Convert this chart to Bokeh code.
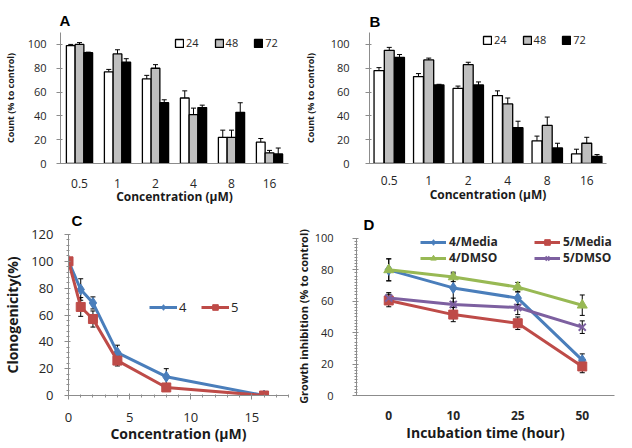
import numpy as np
from bokeh.plotting import figure
from bokeh.layouts import column, row
from bokeh.models import (ColumnDataSource, FactorRange, Range1d, Whisker, TeeHead,
                          Legend, LegendItem, SingleIntervalTicker)
from bokeh.transform import dodge
from bokeh.embed import file_html
from bokeh.resources import INLINE

# ---------------- data ----------------
conc_labels = ["0.5", "1", "2", "4", "8", "16"]
series_labels = ["24", "48", "72"]

a_24 = [99, 77, 71, 55, 22, 18]
a_48 = [100, 92, 80, 41, 22, 9]
a_72 = [93, 85, 51, 47, 43, 8]
a_24_err = [1, 2, 3, 6, 6, 3]
a_48_err = [1.5, 3.5, 3, 5.5, 6, 2]
a_72_err = [0.5, 3, 2.5, 2, 8, 5]

b_24 = [78, 73, 63, 57, 19, 8]
b_48 = [95, 87, 83, 50, 32, 17]
b_72 = [89, 66, 66, 30, 13, 6]
b_24_err = [2.5, 2.5, 2, 4, 4, 4]
b_48_err = [2.5, 1.5, 2, 5, 7, 5]
b_72_err = [2.5, 0.5, 2.5, 5.5, 4, 1.5]

c_conc = [0, 1, 2, 4, 8, 16]
c_4 = [100, 79, 69, 32, 14, 0]
c_4_err = [0, 8, 4.5, 5.5, 6, 0]
c_5 = [100, 66, 57, 26, 6, 0]
c_5_err = [1, 7, 6, 4, 2, 0]

d_time = ["0", "10", "25", "50"]
d_4_media = [80, 68.5, 62, 22.5]
d_5_media = [60.5, 51.5, 46, 18.5]
d_4_dmso = [80, 75.5, 69, 57.5]
d_5_dmso = [62, 58, 56, 43.5]
d_4_media_err = [7, 9, 4, 4]
d_5_media_err = [4, 4.5, 4, 4]
d_4_dmso_err = [7, 3, 3, 6.5]
d_5_dmso_err = [3.5, 4, 4.5, 4]

FONT = "Open Sans"
AXIS_COLOR = "#8c8c8c"
TEXT_COLOR = "#262626"
BLUE = "#4A7EBB"
RED = "#BE4B48"
GREEN = "#98B954"
PURPLE = "#7D60A0"


def style_axis(ax, label_size, title_size, bold_labels=False):
    ax.axis_line_color = AXIS_COLOR
    ax.major_tick_line_color = AXIS_COLOR
    ax.minor_tick_line_color = AXIS_COLOR
    ax.major_tick_out = 4
    ax.major_tick_in = 2
    ax.minor_tick_out = 2
    ax.minor_tick_in = 1
    ax.major_label_text_font = FONT
    ax.major_label_text_font_size = label_size
    ax.major_label_text_color = TEXT_COLOR
    if bold_labels:
        ax.major_label_text_font_style = "bold"
    ax.axis_label_text_font = FONT
    ax.axis_label_text_font_size = title_size
    ax.axis_label_text_font_style = "bold"
    ax.axis_label_text_color = "#1a1a1a"


def base_fig(letter, standoff, offset, **kw):
    p = figure(output_backend="svg", toolbar_location=None, title=letter, **kw)
    p.title.align = "left"
    p.title.vertical_align = "top"
    p.title.text_font = "Liberation Sans"
    p.title.text_font_size = "15px"
    p.title.text_font_style = "bold"
    p.title.text_color = "black"
    p.title.standoff = standoff
    p.title.offset = offset
    p.outline_line_color = None
    p.xgrid.visible = False
    p.ygrid.visible = False
    p.background_fill_color = "white"
    p.border_fill_color = "white"
    return p


def whisker(base, upper, lower, src):
    return Whisker(base=base, upper=upper, lower=lower, source=src,
                   line_color="black", line_width=1,
                   upper_head=TeeHead(size=5, line_color="black", line_width=1),
                   lower_head=TeeHead(size=5, line_color="black", line_width=1))


def bar_panel(vals, errs, width, height, borders, bar_w, off, legend_loc,
              y_std, x_std, y_title_std, x_title_std, letter, t_standoff, t_offset):
    p = base_fig(letter, t_standoff, t_offset, width=width, height=height,
                 x_range=FactorRange(factors=conc_labels),
                 y_range=Range1d(0, 110),
                 min_border_left=borders[0], min_border_right=borders[1],
                 min_border_top=borders[2], min_border_bottom=borders[3])
    data = dict(conc=conc_labels)
    for lab, v, e in zip(series_labels, vals, errs):
        v = np.array(v, dtype=float)
        e = np.array(e, dtype=float)
        data["v" + lab] = v
        data["u" + lab] = v + e
        data["l" + lab] = v - e
    src = ColumnDataSource(data)
    fills = ["white", "#BFBFBF", "black"]
    offsets = [-off, 0, off]
    items = []
    for lab, fc, o in zip(series_labels, fills, offsets):
        r = p.vbar(x=dodge("conc", o, range=p.x_range), top="v" + lab, width=bar_w,
                   fill_color=fc, line_color="black", line_width=1.3, source=src)
        items.append(LegendItem(label=lab, renderers=[r]))
        p.add_layout(whisker(dodge("conc", o, range=p.x_range), "u" + lab, "l" + lab, src))
    leg = Legend(items=items, orientation="horizontal", location=legend_loc,
                 glyph_width=10, glyph_height=10, label_height=12, label_width=10,
                 label_standoff=2, spacing=15, padding=0, margin=0,
                 border_line_color=None, background_fill_alpha=0,
                 label_text_font=FONT, label_text_font_size="11px",
                 label_text_color=TEXT_COLOR)
    p.add_layout(leg)
    p.yaxis.ticker = [0, 20, 40, 60, 80, 100]
    style_axis(p.yaxis[0], "11px", "9px")
    style_axis(p.xaxis[0], "12px", "12px")
    p.xaxis.major_tick_line_color = None
    p.xaxis.major_tick_out = 0
    p.xaxis.major_tick_in = 0
    p.yaxis.axis_label = "Count (% to control)"
    p.xaxis.axis_label = "Concentration (\u00b5M)"
    p.yaxis.major_label_standoff = y_std
    p.xaxis.major_label_standoff = x_std
    p.yaxis.axis_label_standoff = y_title_std
    p.xaxis.axis_label_standoff = x_title_std
    return p


pA = bar_panel([a_24, a_48, a_72], [a_24_err, a_48_err, a_72_err],
               300, 208, (54, 12, 32, 45), 0.23, 0.23, (114, 113),
               10, 15, 8, -3, "A", 3, -1)
pB = bar_panel([b_24, b_48, b_72], [b_24_err, b_48_err, b_72_err],
               316, 208, (58, 10, 30, 42), 0.25, 0.26, (113, 116),
               16, 12, 11, -2, "B", 2, 0)

# ---------------- panel C ----------------
pC = base_fig("C", 7, 3, width=292, height=240, x_range=Range1d(0, 18), y_range=Range1d(0, 120),
              min_border_left=60, min_border_right=4, min_border_top=26, min_border_bottom=53)
srcC = ColumnDataSource(dict(x=c_conc, y4=c_4, y5=c_5,
                             u4=np.array(c_4) + np.array(c_4_err), l4=np.array(c_4) - np.array(c_4_err),
                             u5=np.array(c_5) + np.array(c_5_err), l5=np.array(c_5) - np.array(c_5_err)))
itemsC = []
for key, col, marker in [("4", BLUE, "diamond"), ("5", RED, "square")]:
    l = pC.line("x", "y" + key, source=srcC, line_color=col, line_width=3)
    s = pC.scatter("x", "y" + key, source=srcC, marker=marker, size=9 if marker == "square" else 11,
                   fill_color=col, line_color=col)
    pC.add_layout(whisker("x", "u" + key, "l" + key, srcC))
    itemsC.append(LegendItem(label=key, renderers=[l, s]))
legC = Legend(items=itemsC, orientation="horizontal", location=(81, 79),
              glyph_width=28, glyph_height=14, label_height=14, label_standoff=2,
              spacing=2, padding=0, margin=0, border_line_color=None,
              background_fill_alpha=0, label_text_font=FONT, label_text_font_size="13px",
              label_text_color=TEXT_COLOR)
pC.add_layout(legC)
pC.xaxis.ticker = SingleIntervalTicker(interval=5, num_minor_ticks=5)
pC.yaxis.ticker = SingleIntervalTicker(interval=20, num_minor_ticks=5)
style_axis(pC.xaxis[0], "13px", "14px")
style_axis(pC.yaxis[0], "13px", "14px")
pC.xaxis.axis_label = "Concentration (\u00b5M)"
pC.yaxis.axis_label = "Clonogenicity(%)"
pC.xaxis.major_label_standoff = 13
pC.yaxis.major_label_standoff = 11
pC.xaxis.axis_label_standoff = -1
pC.yaxis.axis_label_standoff = 6

# ---------------- panel D ----------------
pD = base_fig("D", 0, 7, width=324, height=240, x_range=FactorRange(factors=d_time),
              y_range=Range1d(0, 102.5),
              min_border_left=59, min_border_right=2, min_border_top=19, min_border_bottom=50)
series_d = [("4/Media", d_4_media, d_4_media_err, BLUE, "diamond", 11),
            ("5/Media", d_5_media, d_5_media_err, RED, "square", 9),
            ("4/DMSO", d_4_dmso, d_4_dmso_err, GREEN, "triangle", 10),
            ("5/DMSO", d_5_dmso, d_5_dmso_err, PURPLE, "x", 10)]
itemsD = []
for name, vals, errs, col, marker, size in series_d:
    v = np.array(vals, dtype=float)
    e = np.array(errs, dtype=float)
    src = ColumnDataSource(dict(t=d_time, v=v, u=v + e, lo=v - e))
    l = pD.line("t", "v", source=src, line_color=col, line_width=3)
    s = pD.scatter("t", "v", source=src, marker=marker, size=size, fill_color=col,
                   line_color=col, line_width=2 if marker == "x" else 1)
    pD.add_layout(whisker("t", "u", "lo", src))
    itemsD.append(LegendItem(label=name, renderers=[l, s]))
for its, yloc in [(itemsD[:2], 145), (itemsD[2:], 129)]:
    pD.add_layout(Legend(items=its, orientation="horizontal", location=(64, yloc),
                         glyph_width=26, glyph_height=14, label_height=14, label_width=83,
                         label_standoff=3, spacing=2, padding=0, margin=0,
                         border_line_color=None, background_fill_alpha=0,
                         label_text_font=FONT, label_text_font_size="12px",
                         label_text_font_style="bold", label_text_color=TEXT_COLOR))
pD.yaxis.ticker = SingleIntervalTicker(interval=20, num_minor_ticks=10)
pD.yaxis.bounds = (0, 100)
style_axis(pD.xaxis[0], "12px", "14px", bold_labels=True)
style_axis(pD.yaxis[0], "11px", "11px")
pD.xaxis.major_tick_line_color = None
pD.xaxis.major_tick_out = 0
pD.xaxis.major_tick_in = 0
pD.xaxis.axis_label = "Incubation time (hour)"
pD.yaxis.axis_label = "Growth inhibition  (% to control)"
pD.xaxis.major_label_standoff = 15
pD.yaxis.major_label_standoff = 19
pD.xaxis.axis_label_standoff = 0
pD.yaxis.axis_label_standoff = 1

layout = column(row(pA, pB), row(pC, pD))
open("out.html", "w").write(file_html(layout, INLINE))
